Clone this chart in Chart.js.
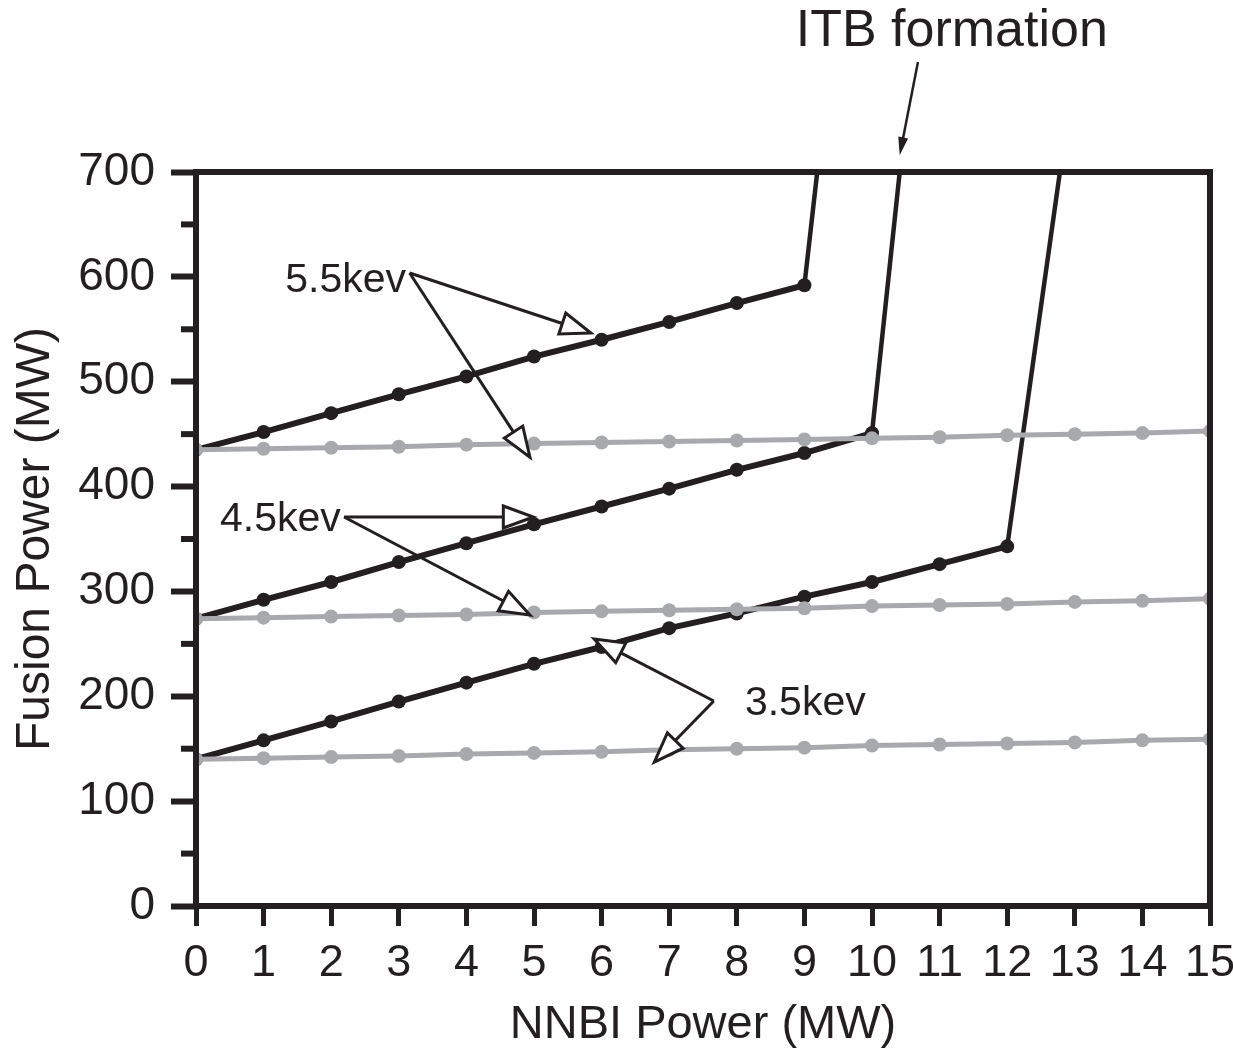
<!DOCTYPE html>
<html><head><meta charset="utf-8">
<script src="https://cdn.jsdelivr.net/npm/chart.js@4.4.0/dist/chart.umd.min.js"></script>
<style>html,body{margin:0;padding:0;background:#fff}#wrap{width:1233px;height:1053px}</style>
</head><body><div id="wrap"><canvas id="c" width="1233" height="1053"></canvas></div>
<script>
// ---- data ----
const nnbiPower = [0,1,2,3,4,5,6,7,8,9,10,11,12,13,14,15];
const yTickValues = [0,100,200,300,400,500,600,700];
const yMinorTicks = [50,150,250,350,450,550,650];

// black (ITB) series, points at integer NNBI power, then jump to the ITB top
const fusion55 = [435,452,470,488,505,524,540,557,575,592];
const fusion45 = [274,292,309,328,346,364,381,398,416,432,451];
const fusion35 = [140,158,176,195,213,231,247,265,279,295,309,326,343];
const itbJumpX = [9.19, 10.41, 12.78];
const itbJumpY = [700, 700, 700];

// gray series
const gray55 = [435,436,437,438,440,441,442,443,444,445,446,447,449,450,451,453];
const gray45 = [274,275,276,277,278,280,281,282,283,284,286,287,288,290,291,293];
const gray35 = [140,141,142,143,145,146,147,149,150,151,153,154,155,156,158,159];

// annotations (data units)
const annotTexts = ['5.5kev','4.5kev','3.5kev'];
const annotTextPos = [[1.32,596],[0.355,368],[8.12,192.6]];
const annotOrigins = [[3.16,603.7],[2.19,371],[7.66,195.5]];
const annotTips = [
  [[5.84,546.5],[4.94,428]],
  [[4.99,371],[4.94,277.5]],
  [[5.89,254.6],[6.78,137.3]]
];
const itbText = 'ITB formation';
const itbTextPos = [11.18, 834];
const itbArrow = [[10.68,805],[10.41,716]];

const BLACK = '#231f20', GRAY = '#a7a9ac';
const FONT = '"Liberation Sans", Arial, Helvetica, sans-serif';

function blackData(vals, k){
  const d = vals.map((v,i)=>({x:nnbiPower[i], y:v}));
  d.push({x:itbJumpX[k], y:itbJumpY[k]});
  return d;
}
function grayData(vals){ return vals.map((v,i)=>({x:nnbiPower[i], y:v})); }

function blackDs(vals,k){
  const n = vals.length;
  return {
    data: blackData(vals,k), borderColor: BLACK, backgroundColor: BLACK,
    borderWidth: 6, pointRadius: c => c.dataIndex === n ? 0 : 7,
    pointHoverRadius: 0, pointBorderWidth: 0, tension: 0, order: 2,
    segment: { borderWidth: c => c.p1DataIndex === n ? 4.5 : 6 }
  };
}
function grayDs(vals){
  return {
    data: grayData(vals), borderColor: GRAY, backgroundColor: GRAY,
    borderWidth: 5, pointRadius: 7, pointHoverRadius: 0, pointBorderWidth: 0,
    tension: 0, order: 1
  };
}

function arrow(ctx, x0, y0, x1, y1, L, W){
  const dx = x1-x0, dy = y1-y0, len = Math.hypot(dx,dy);
  const ux = dx/len, uy = dy/len, px = -uy, py = ux;
  const bx = x1 - ux*L, by = y1 - uy*L;
  ctx.beginPath(); ctx.moveTo(x0,y0); ctx.lineTo(bx,by); ctx.stroke();
  ctx.beginPath();
  ctx.moveTo(x1,y1); ctx.lineTo(bx+px*W, by+py*W); ctx.lineTo(bx-px*W, by-py*W); ctx.closePath();
  ctx.fillStyle = '#fff'; ctx.fill(); ctx.stroke();
}

const decor = {
  id: 'decor',
  afterDatasetsDraw(chart){
    const {ctx, chartArea:a} = chart;
    ctx.save();
    ctx.strokeStyle = BLACK; ctx.lineWidth = 6;
    ctx.strokeRect(a.left, a.top, a.right-a.left, a.bottom-a.top);
    ctx.restore();
  },
  afterDraw(chart){
    const {ctx, chartArea:a} = chart;
    const xs = chart.scales.x, ys = chart.scales.y;
    const X = v => xs.getPixelForValue(v), Y = v => ys.getPixelForValue(v);
    ctx.save();
    // minor y ticks
    ctx.strokeStyle = BLACK; ctx.lineWidth = 6;
    yMinorTicks.forEach(v => {
      const y = Y(v);
      ctx.beginPath(); ctx.moveTo(a.left-15, y); ctx.lineTo(a.left, y); ctx.stroke();
    });
    // keV annotations
    ctx.fillStyle = BLACK; ctx.font = '41px ' + FONT;
    ctx.textAlign = 'left'; ctx.textBaseline = 'middle';
    annotTexts.forEach((t,i) => {
      ctx.fillStyle = BLACK;
      ctx.fillText(t, X(annotTextPos[i][0]), Y(annotTextPos[i][1]));
    });
    ctx.lineWidth = 3; ctx.strokeStyle = BLACK; ctx.lineJoin = 'miter';
    annotTips.forEach((tips,i) => {
      tips.forEach(tp => {
        arrow(ctx, X(annotOrigins[i][0]), Y(annotOrigins[i][1]), X(tp[0]), Y(tp[1]), 30, 11);
      });
    });
    // ITB formation
    ctx.fillStyle = BLACK; ctx.font = '52px ' + FONT;
    ctx.textAlign = 'center'; ctx.textBaseline = 'middle';
    ctx.fillText(itbText, X(itbTextPos[0]), Y(itbTextPos[1]));
    const x0 = X(itbArrow[0][0]), y0 = Y(itbArrow[0][1]), x1 = X(itbArrow[1][0]), y1 = Y(itbArrow[1][1]);
    const dx = x1-x0, dy = y1-y0, len = Math.hypot(dx,dy), ux = dx/len, uy = dy/len;
    ctx.lineWidth = 2.5;
    ctx.beginPath(); ctx.moveTo(x0,y0); ctx.lineTo(x1-ux*10, y1-uy*10); ctx.stroke();
    ctx.beginPath(); ctx.moveTo(x1,y1);
    ctx.lineTo(x1-ux*18-uy*5, y1-uy*18+ux*5);
    ctx.lineTo(x1-ux*18+uy*5, y1-uy*18-ux*5); ctx.closePath();
    ctx.fillStyle = BLACK; ctx.fill();
    ctx.restore();
  }
};

new Chart(document.getElementById('c'), {
  type: 'line',
  data: {
    datasets: [
      grayDs(gray55), grayDs(gray45), grayDs(gray35),
      blackDs(fusion55,0), blackDs(fusion45,1), blackDs(fusion35,2)
    ]
  },
  options: {
    responsive: false, devicePixelRatio: 1, animation: false,
    events: [],
    layout: { padding: { left: 0, top: 172, right: 23, bottom: 0 } },
    plugins: { legend: { display: false }, tooltip: { enabled: false } },
    scales: {
      x: {
        type: 'linear', min: 0, max: 15,
        afterFit: s => { s.height = 147; s.paddingLeft = 0; s.paddingRight = 0; },
        afterBuildTicks: s => { s.ticks = nnbiPower.map(v => ({value: v})); },
        ticks: { color: BLACK, font: { family: FONT, size: 45 }, padding: 11, maxRotation: 0, autoSkip: false },
        grid: { drawOnChartArea: false, drawTicks: true, tickLength: 20, tickWidth: 5, tickColor: BLACK },
        border: { display: false },
        title: { display: true, text: 'NNBI Power (MW)', color: BLACK, font: { family: FONT, size: 47 }, padding: { top: 0, bottom: 0 } }
      },
      y: {
        type: 'linear', min: 0, max: 700,
        afterFit: s => { s.width = 196; s.paddingTop = 0; s.paddingBottom = 0; },
        afterBuildTicks: s => { s.ticks = yTickValues.map(v => ({value: v})); },
        ticks: { color: BLACK, font: { family: FONT, size: 46 }, padding: 16 },
        grid: { drawOnChartArea: false, drawTicks: true, tickLength: 25, tickWidth: 6, tickColor: BLACK },
        border: { display: false },
        title: { display: true, text: 'Fusion Power (MW)', color: BLACK, font: { family: FONT, size: 48 }, padding: { top: 7, bottom: 0 } }
      }
    }
  },
  plugins: [decor]
});
</script>
</body></html>
